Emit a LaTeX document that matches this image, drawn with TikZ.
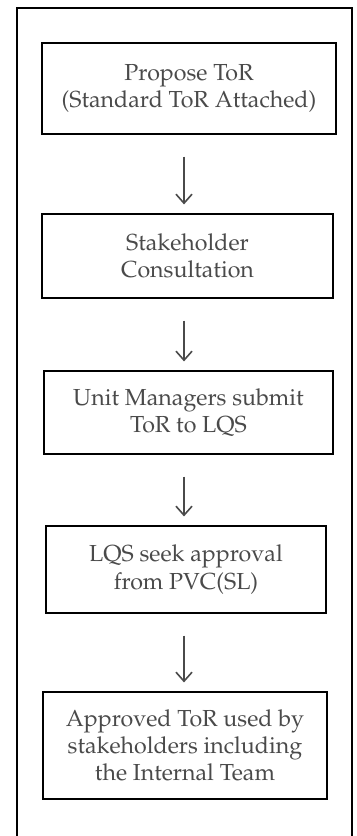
\documentclass[tikz,border=0pt]{standalone}
\usepackage[T1]{fontenc}
\usepackage{mathpazo}
\usepackage{tikz}
\usetikzlibrary{arrows.meta}
\definecolor{textgrey}{HTML}{4A4A4A}

\begin{document}
\begin{tikzpicture}[x=0.5pt,y=-0.5pt,
    step box/.style={
% The shape:
rectangle,
% The text:
align=center, text=textgrey, font=\fontsize{11.6}{13.6}\selectfont,
% The border:
line width=0.6pt, draw=black,
},
    frame/.style={
% The border:
line width=0.9pt, draw=black,
},
    flow/.style={
-{Straight Barb[length=4.5pt,width=8pt,line width=0.8pt]},
line width=0.7pt, draw=textgrey,
shorten <=11pt, shorten >=4.5pt,
},
]
  \useasboundingbox (0,0) rectangle (357,836);
  \draw[frame] (17,850) -- (17,8) -- (352,8) -- (352,850);

  \node[step box,minimum width=147pt,minimum height=45.5pt]
    (propose) at (189, 88.5) {Propose ToR\\(Standard ToR Attached)};
  \node[step box,minimum width=145.5pt,minimum height=42pt]
    (consult) at (187.5, 256) {Stakeholder\\Consultation};
  \node[step box,minimum width=144.5pt,minimum height=41.5pt]
    (submit) at (188.5, 412.5) {Unit Managers submit\\ToR to LQS};
  \node[step box,minimum width=140pt,minimum height=43.5pt]
    (approval) at (186, 569.5) {LQS seek approval\\from PVC(SL)};
  \node[step box,minimum width=142pt,minimum height=53.5pt]
    (used) at (185, 745.5) {Approved ToR used by\\stakeholders including\\the Internal Team};

  \coordinate (x1) at (184,0);
  \draw[flow] (propose.south -| x1) -- (consult.north -| x1);
  \draw[flow] (consult.south -| x1) -- (submit.north -| x1);
  \draw[flow] (submit.south -| x1) -- (approval.north -| x1);
  \draw[flow] (approval.south -| x1) -- (used.north -| x1);

\end{tikzpicture}
\end{document}
